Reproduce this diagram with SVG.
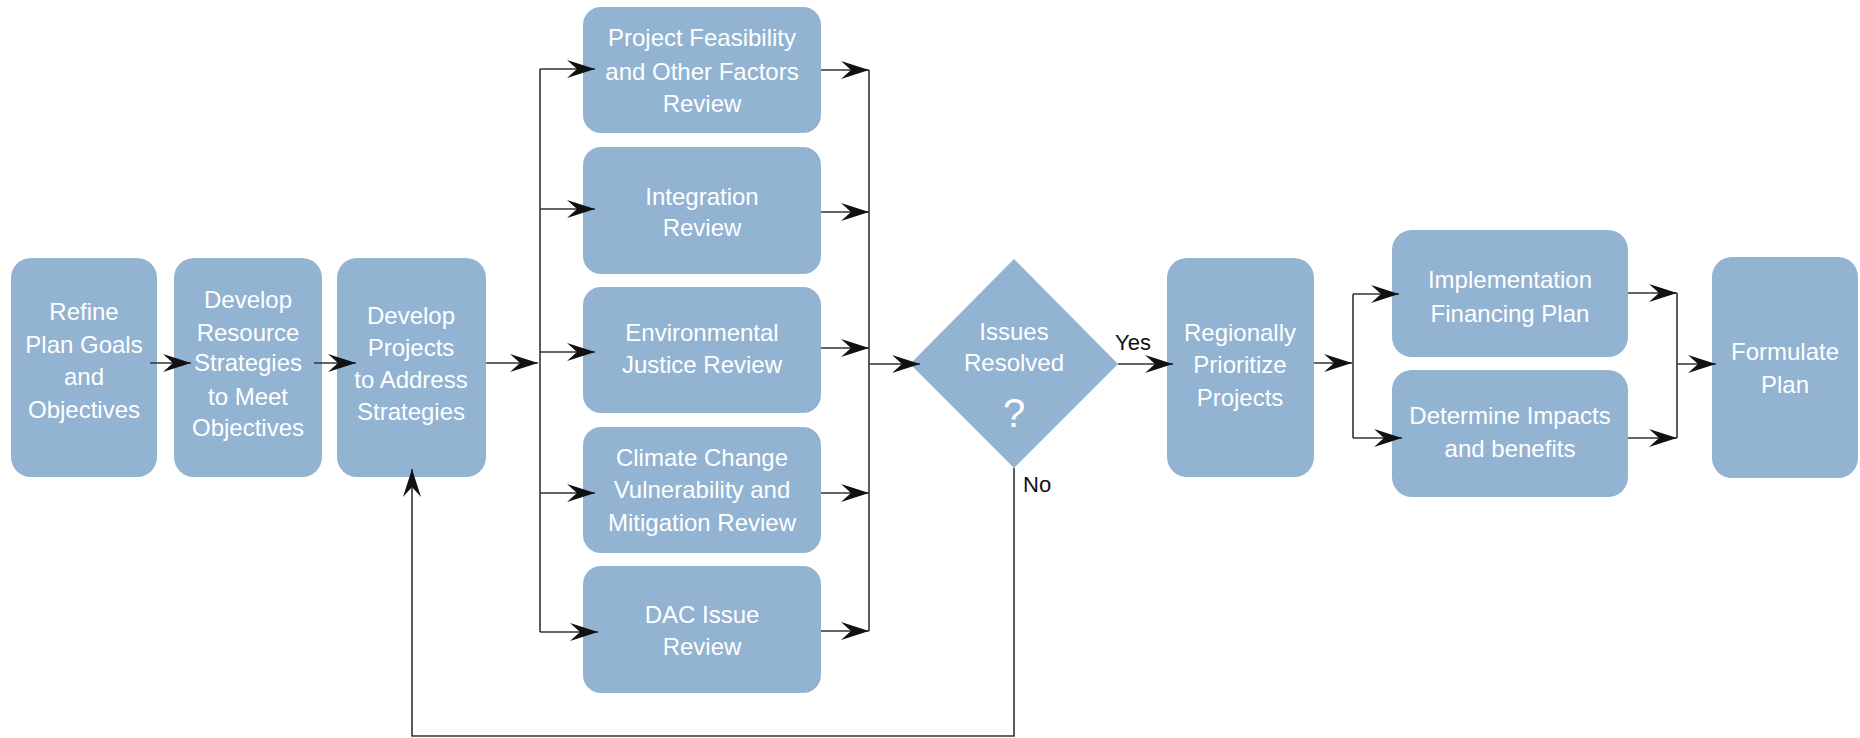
<svg xmlns="http://www.w3.org/2000/svg" width="1860" height="738" viewBox="0 0 1860 738">
<defs>
<style>
.box{fill:#92b3d2;}
.t{font-family:"Liberation Sans",Arial,sans-serif;font-size:24px;fill:#ffffff;text-anchor:middle;}
.lbl{font-family:"Liberation Sans",Arial,sans-serif;font-size:22px;fill:#111111;}
.c{fill:none;stroke:#333333;stroke-width:1.6;}
</style>
<marker id="ah" markerUnits="userSpaceOnUse" markerWidth="32" markerHeight="22" viewBox="-30 -10 32 20" refX="0" refY="0" orient="auto">
<path d="M0,0 L-28,-9 L-18,0 L-28,9 Z" fill="#111111"/>
</marker>
</defs>
<rect width="1860" height="738" fill="#ffffff"/>

<g id="n1"><rect class="box" x="11" y="258" width="146" height="219" rx="20"/>
<text class="t" x="84" y="320">Refine</text><text class="t" x="84" y="353">Plan Goals</text><text class="t" x="84" y="385">and</text><text class="t" x="84" y="418">Objectives</text></g>
<g id="n2"><rect class="box" x="174" y="258" width="148" height="219" rx="20"/>
<text class="t" x="248" y="308">Develop</text><text class="t" x="248" y="341">Resource</text><text class="t" x="248" y="371">Strategies</text><text class="t" x="248" y="405">to Meet</text><text class="t" x="248" y="436">Objectives</text></g>
<g id="n3"><rect class="box" x="337" y="258" width="149" height="219" rx="20"/>
<text class="t" x="411" y="324">Develop</text><text class="t" x="411" y="356">Projects</text><text class="t" x="411" y="388">to Address</text><text class="t" x="411" y="420">Strategies</text></g>

<g id="n4"><rect class="box" x="583" y="7" width="238" height="126" rx="18"/>
<text class="t" x="702" y="46">Project Feasibility</text><text class="t" x="702" y="80">and Other Factors</text><text class="t" x="702" y="112">Review</text></g>
<g id="n5"><rect class="box" x="583" y="147" width="238" height="127" rx="18"/>
<text class="t" x="702" y="205">Integration</text><text class="t" x="702" y="236">Review</text></g>
<g id="n6"><rect class="box" x="583" y="287" width="238" height="126" rx="18"/>
<text class="t" x="702" y="341">Environmental</text><text class="t" x="702" y="373">Justice Review</text></g>
<g id="n7"><rect class="box" x="583" y="427" width="238" height="126" rx="18"/>
<text class="t" x="702" y="466">Climate Change</text><text class="t" x="702" y="498">Vulnerability and</text><text class="t" x="702" y="531">Mitigation Review</text></g>
<g id="n8"><rect class="box" x="583" y="566" width="238" height="127" rx="18"/>
<text class="t" x="702" y="623">DAC Issue</text><text class="t" x="702" y="655">Review</text></g>

<g id="n9"><polygon class="box" points="910,364 1014,259 1118,364 1014,468"/>
<text class="t" x="1014" y="340">Issues</text><text class="t" x="1014" y="371">Resolved</text><text class="t" x="1014" y="427" style="font-size:40px">?</text></g>

<g id="n10"><rect class="box" x="1167" y="258" width="147" height="219" rx="20"/>
<text class="t" x="1240" y="341">Regionally</text><text class="t" x="1240" y="373">Prioritize</text><text class="t" x="1240" y="406">Projects</text></g>
<g id="n11"><rect class="box" x="1392" y="230" width="236" height="127" rx="20"/>
<text class="t" x="1510" y="288">Implementation</text><text class="t" x="1510" y="322">Financing Plan</text></g>
<g id="n12"><rect class="box" x="1392" y="370" width="236" height="127" rx="20"/>
<text class="t" x="1510" y="424">Determine Impacts</text><text class="t" x="1510" y="457">and benefits</text></g>
<g id="n13"><rect class="box" x="1712" y="257" width="146" height="221" rx="20"/>
<text class="t" x="1785" y="360">Formulate</text><text class="t" x="1785" y="393">Plan</text></g>

<g id="connectors">
<line class="c" x1="150" y1="363" x2="191" y2="363" marker-end="url(#ah)"/>
<line class="c" x1="314" y1="363" x2="356" y2="363" marker-end="url(#ah)"/>
<line class="c" x1="486" y1="363" x2="538" y2="363" marker-end="url(#ah)"/>
<line class="c" x1="540" y1="69" x2="540" y2="632"/>
<line class="c" x1="540" y1="69" x2="595" y2="69" marker-end="url(#ah)"/>
<line class="c" x1="540" y1="209" x2="595" y2="209" marker-end="url(#ah)"/>
<line class="c" x1="540" y1="352" x2="595" y2="352" marker-end="url(#ah)"/>
<line class="c" x1="540" y1="493" x2="595" y2="493" marker-end="url(#ah)"/>
<line class="c" x1="540" y1="632" x2="598" y2="632" marker-end="url(#ah)"/>
<line class="c" x1="821" y1="70" x2="869" y2="70" marker-end="url(#ah)"/>
<line class="c" x1="821" y1="212" x2="869" y2="212" marker-end="url(#ah)"/>
<line class="c" x1="821" y1="348" x2="869" y2="348" marker-end="url(#ah)"/>
<line class="c" x1="821" y1="493" x2="869" y2="493" marker-end="url(#ah)"/>
<line class="c" x1="821" y1="631" x2="869" y2="631" marker-end="url(#ah)"/>
<line class="c" x1="869" y1="70" x2="869" y2="631"/>
<line class="c" x1="869" y1="364" x2="920" y2="364" marker-end="url(#ah)"/>
<line class="c" x1="1118" y1="364" x2="1173" y2="364" marker-end="url(#ah)"/>
<line class="c" x1="1314" y1="363" x2="1352" y2="363" marker-end="url(#ah)"/>
<line class="c" x1="1353" y1="294" x2="1353" y2="438"/>
<line class="c" x1="1353" y1="294" x2="1399" y2="294" marker-end="url(#ah)"/>
<line class="c" x1="1353" y1="438" x2="1402" y2="438" marker-end="url(#ah)"/>
<line class="c" x1="1628" y1="293" x2="1677" y2="293" marker-end="url(#ah)"/>
<line class="c" x1="1628" y1="438" x2="1677" y2="438" marker-end="url(#ah)"/>
<line class="c" x1="1677" y1="293" x2="1677" y2="438"/>
<line class="c" x1="1677" y1="364" x2="1716" y2="364" marker-end="url(#ah)"/>
<polyline class="c" points="1014,468 1014,736 412,736 412,469" marker-end="url(#ah)"/>
<text class="lbl" x="1115" y="350">Yes</text>
<text class="lbl" x="1023" y="492">No</text>
</g>
</svg>
